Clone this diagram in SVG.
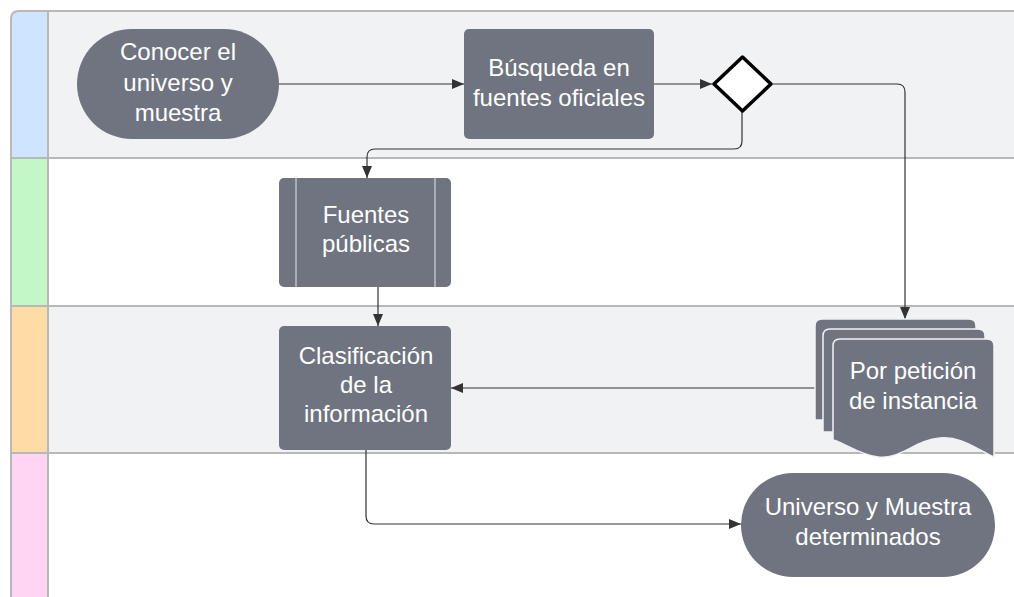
<svg xmlns="http://www.w3.org/2000/svg" width="1014" height="597" viewBox="0 0 1014 597">
<style>
.node{fill:#6f7480;}
.t{font-family:"Liberation Sans",Arial,sans-serif;font-size:24px;fill:#ffffff;text-anchor:middle;}
.c{fill:none;stroke:#333333;stroke-width:1.2;}
.lane{stroke:#b8b8b8;stroke-width:2;}
</style>
<defs>
<marker id="ah" viewBox="0 0 12 10" refX="12" refY="5" markerWidth="12" markerHeight="10" markerUnits="userSpaceOnUse" orient="auto">
<path d="M0,0 L12,5 L0,10 z" fill="#333333"/>
</marker>
</defs>
<rect width="1014" height="597" fill="#ffffff"/>
<g id="lanes">
<rect x="48" y="11" width="966" height="147" fill="#f1f2f4"/>
<rect x="48" y="306" width="966" height="147" fill="#f1f2f4"/>
<path d="M11,158 V19 Q11,11 19,11 H48 V158 Z" fill="#cfe4ff"/>
<rect x="11" y="158" width="37" height="148" fill="#c3f7c8"/>
<rect x="11" y="306" width="37" height="147" fill="#ffdba5"/>
<rect x="11" y="453" width="37" height="144" fill="#ffd5f3"/>
<path class="lane" fill="none" d="M11,597 V19 Q11,11 19,11 H1014"/>
<line class="lane" x1="48" y1="11" x2="48" y2="597"/>
<line class="lane" x1="11" y1="158" x2="1014" y2="158"/>
<line class="lane" x1="11" y1="306" x2="1014" y2="306"/>
<line class="lane" x1="11" y1="453" x2="1014" y2="453"/>
</g>
<g id="connectors">
<path class="c" d="M279,84 H464" marker-end="url(#ah)"/>
<path class="c" d="M654,84 H712" marker-end="url(#ah)"/>
<path class="c" d="M773,84 H897 Q905,84 905,92 V319" marker-end="url(#ah)"/>
<path class="c" d="M742,111 V141 Q742,149 734,149 H375 Q367,149 367,157 V178" marker-end="url(#ah)"/>
<path class="c" d="M378,287 V326" marker-end="url(#ah)"/>
<path class="c" d="M815,388 H451" marker-end="url(#ah)"/>
<path class="c" d="M366,450 V516 Q366,524 374,524 H741" marker-end="url(#ah)"/>
</g>
<g id="n1">
<rect class="node" x="77" y="29" width="202" height="110" rx="55"/>
<text class="t" x="178" y="60">Conocer el</text>
<text class="t" x="178" y="91">universo y</text>
<text class="t" x="178" y="121">muestra</text>
</g>
<g id="n2">
<rect class="node" x="464" y="29" width="190" height="110" rx="5"/>
<text class="t" x="559" y="76">Búsqueda en</text>
<text class="t" x="559" y="106">fuentes oficiales</text>
</g>
<g id="n3">
<path d="M742.5,57 L771,84 L742.5,111 L714,84 Z" fill="#ffffff" stroke="#000000" stroke-width="3.5" stroke-linejoin="round"/>
</g>
<g id="n4">
<rect class="node" x="279" y="178" width="172" height="109" rx="5"/>
<line x1="296" y1="178" x2="296" y2="287" stroke="#e6e7ea" stroke-width="1"/>
<line x1="435" y1="178" x2="435" y2="287" stroke="#e6e7ea" stroke-width="1"/>
<text class="t" x="366" y="223">Fuentes</text>
<text class="t" x="366" y="252">públicas</text>
</g>
<g id="n5">
<rect class="node" x="279" y="326" width="172" height="124" rx="5"/>
<text class="t" x="366" y="364">Clasificación</text>
<text class="t" x="366" y="393">de la</text>
<text class="t" x="366" y="422">información</text>
</g>
<g id="n6">
<path class="node" stroke="#f1f2f4" stroke-width="1.5" d="M815,326 Q815,319 822,319 H969 Q976,319 976,326 V420 H815 Z"/>
<path class="node" stroke="#f1f2f4" stroke-width="1.5" d="M823,336 Q823,329 830,329 H978 Q985,329 985,336 V432 H823 Z"/>
<path class="node" stroke="#f1f2f4" stroke-width="1.5" d="M833,346 Q833,339 840,339 H987 Q994,339 994,346 V457 C975,448 960,436 940,438 C915,440 900,460 878,457 C860,455 845,443 833,440 Z"/>
<text class="t" x="913" y="379">Por petición</text>
<text class="t" x="913" y="409">de instancia</text>
</g>
<g id="n7">
<rect class="node" x="741" y="473" width="254" height="104" rx="52"/>
<text class="t" x="868" y="515">Universo y Muestra</text>
<text class="t" x="868" y="545">determinados</text>
</g>
</svg>
